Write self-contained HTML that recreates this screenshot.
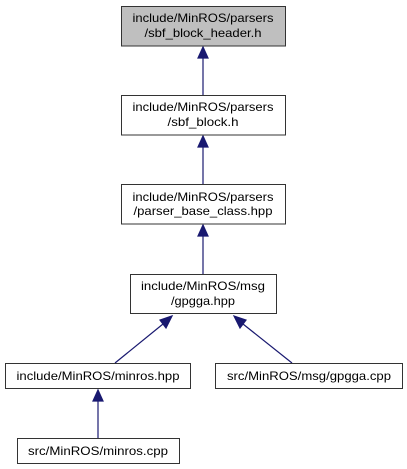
<!DOCTYPE html>
<html><head><meta charset="utf-8"><style>html,body{margin:0;padding:0;background:#fff}svg{display:block}</style></head>
<body>
<svg width="407" height="469" viewBox="0 0 407 469" xmlns="http://www.w3.org/2000/svg" font-family="Liberation Sans, sans-serif" font-size="12">
<g stroke="#191970" stroke-width="1.2" fill="#191970">
<line x1="203" y1="58" x2="203" y2="95"/><polygon points="203,47 198,58 208,58"/>
<line x1="203" y1="147" x2="203" y2="184"/><polygon points="203,136 198,147 208,147"/>
<line x1="203" y1="236" x2="203" y2="274"/><polygon points="203,225 198,236 208,236"/>
<line x1="163" y1="324" x2="115" y2="363"/><polygon points="172,316 160,320 166,328"/>
<line x1="243" y1="324" x2="292" y2="363"/><polygon points="234,316 240,328 246,320"/>
<line x1="98" y1="401" x2="98" y2="438"/><polygon points="98,390 93,401 103,401"/>
</g>
<g stroke="#333" stroke-width="1" fill="#fff">
<rect x="121.5" y="6.5" width="164" height="39.5" fill="#bfbfbf"/>
<rect x="121.5" y="95.5" width="164" height="39.5"/>
<rect x="121.5" y="184.5" width="164" height="39.5"/>
<rect x="130.5" y="274.5" width="146" height="39"/>
<rect x="5.5" y="363.5" width="185" height="25"/>
<rect x="215.5" y="363.5" width="187" height="25"/>
<rect x="17.5" y="438.5" width="162" height="25"/>
</g>
<g fill="#000" text-anchor="middle">
<text x="203" y="22" textLength="141" lengthAdjust="spacingAndGlyphs">include/MinROS/parsers</text>
<text x="203" y="37" textLength="117" lengthAdjust="spacingAndGlyphs">/sbf_block_header.h</text>
<text x="203" y="111" textLength="141" lengthAdjust="spacingAndGlyphs">include/MinROS/parsers</text>
<text x="203" y="126" textLength="71" lengthAdjust="spacingAndGlyphs">/sbf_block.h</text>
<text x="203" y="201" textLength="141" lengthAdjust="spacingAndGlyphs">include/MinROS/parsers</text>
<text x="203" y="215" textLength="139" lengthAdjust="spacingAndGlyphs">/parser_base_class.hpp</text>
<text x="203" y="290" textLength="124" lengthAdjust="spacingAndGlyphs">include/MinROS/msg</text>
<text x="203" y="305" textLength="64" lengthAdjust="spacingAndGlyphs">/gpgga.hpp</text>
<text x="98" y="380" textLength="163" lengthAdjust="spacingAndGlyphs">include/MinROS/minros.hpp</text>
<text x="309" y="380" textLength="164" lengthAdjust="spacingAndGlyphs">src/MinROS/msg/gpgga.cpp</text>
<text x="98" y="455" textLength="140" lengthAdjust="spacingAndGlyphs">src/MinROS/minros.cpp</text>
</g>
</svg>
</body></html>
